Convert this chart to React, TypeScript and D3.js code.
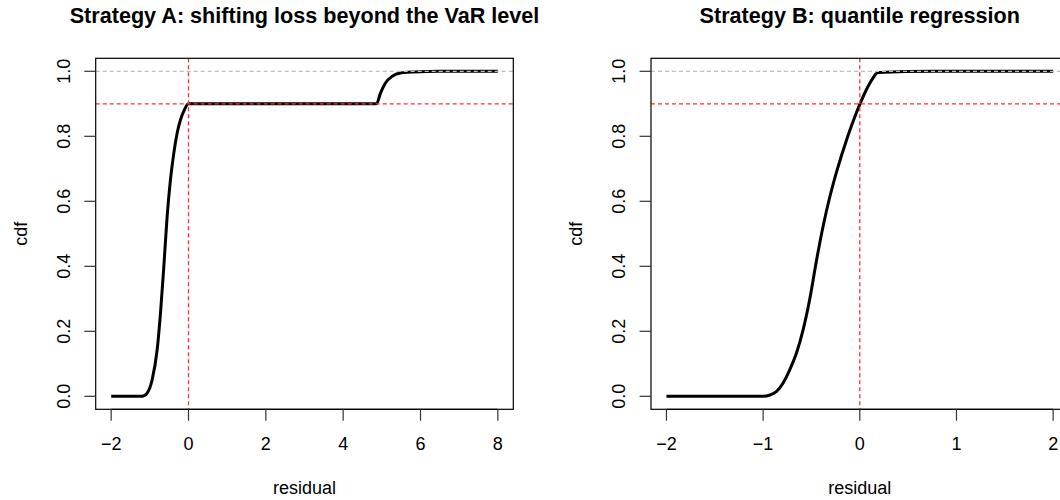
import React from 'react';
import * as d3 from 'd3';

// values (residual, cdf)
const stratAX = [-2, -1.2, -1.07, -0.94, -0.81, -0.724, -0.638, -0.552, -0.466, -0.379, -0.293, -0.207, -0.103, 0, 4.862, 4.965, 5.094, 5.27, 5.48, 5.83, 6.5, 8];
const stratAY = [0, 0, 0.01, 0.051, 0.144, 0.257, 0.4, 0.554, 0.667, 0.749, 0.81, 0.851, 0.882, 0.9, 0.9, 0.933, 0.964, 0.985, 0.995, 0.998, 1.0, 1.0];

const stratBX = [-2, -1.0, -0.93, -0.861, -0.793, -0.724, -0.655, -0.586, -0.517, -0.448, -0.379, -0.31, -0.241, -0.138, -0.069, 0, 0.069, 0.138, 0.189, 0.758, 2];
const stratBY = [0, 0, 0.004, 0.015, 0.041, 0.082, 0.133, 0.205, 0.3, 0.418, 0.524, 0.614, 0.69, 0.788, 0.846, 0.898, 0.944, 0.98, 0.996, 1.0, 1.0];

const ticksA = [-2, 0, 2, 4, 6, 8];
const ticksB = [-2, -1, 0, 1, 2];
const ticksY = [0, 0.2, 0.4, 0.6, 0.8, 1.0];

const titles = ['Strategy A: shifting loss beyond the VaR level', 'Strategy B: quantile regression'];

const FONT = '"Liberation Sans", Arial, Helvetica, sans-serif';
const panelW = 555.3;
const margin = { top: 58.3, right: 42, bottom: 90.7, left: 95.7 };
const H = 500;

const Panel = ({ offset, title, xs, ys, xticks, xmin, xmax }) => {
  const left = offset + margin.left;
  const right = offset + panelW - margin.right;
  const top = margin.top;
  const bottom = H - margin.bottom;

  const pad = (xmax - xmin) * 0.04;
  const x = d3.scaleLinear().domain([xmin - pad, xmax + pad]).range([left, right]);
  const y = d3.scaleLinear().domain([-0.04, 1.04]).range([bottom, top]);

  const pts = xs.map((v, i) => [v, ys[i]]);
  const line = d3.line().x(d => x(d[0])).y(d => y(d[1])).curve(d3.curveMonotoneX);

  const fmtY = d => d3.format('.1f')(d);
  const fmtX = d => (d < 0 ? '\u2212' + Math.abs(d) : String(d));

  return (
    <g fontFamily={FONT}>
      <text x={(left + right) / 2} y={22.7} textAnchor="middle" fontWeight="bold" fontSize={21.6}>{title}</text>

      {/* curve */}
      <path d={line(pts)} fill="none" stroke="#000" strokeWidth={3} strokeLinejoin="round" />

      {/* reference lines */}
      <line x1={left} x2={right} y1={y(1)} y2={y(1)} stroke="#bebebe" strokeWidth={1.2} strokeDasharray="4,3" />
      <line x1={left} x2={right} y1={y(0.9)} y2={y(0.9)} stroke="#ff3030" strokeWidth={1.3} strokeDasharray="4,3" />
      <line x1={x(0)} x2={x(0)} y1={top} y2={bottom} stroke="#ff3030" strokeWidth={1.3} strokeDasharray="4,3" />

      {/* box */}
      <rect x={left} y={top} width={right - left} height={bottom - top} fill="none" stroke="#000" strokeWidth={1.2} />

      {/* x axis */}
      <line x1={x(xticks[0])} x2={x(xticks[xticks.length - 1])} y1={bottom} y2={bottom} stroke="#000" strokeWidth={1.2} />
      {xticks.map(t => (
        <g key={'x' + t}>
          <line x1={x(t)} x2={x(t)} y1={bottom} y2={bottom + 11.4} stroke="#333" strokeWidth={1.2} />
          <text x={x(t)} y={450} textAnchor="middle" fontSize={18}>{fmtX(t)}</text>
        </g>
      ))}
      <text x={(left + right) / 2} y={494.3} textAnchor="middle" fontSize={18}>residual</text>

      {/* y axis */}
      {ticksY.map(t => (
        <g key={'y' + t}>
          <line x1={left - 11.4} x2={left} y1={y(t)} y2={y(t)} stroke="#333" strokeWidth={1.2} />
          <text transform={`translate(${left - 25.7},${y(t)}) rotate(-90)`} textAnchor="middle" fontSize={18}>{fmtY(t)}</text>
        </g>
      ))}
      <text transform={`translate(${left - 69},${(top + bottom) / 2}) rotate(-90)`} textAnchor="middle" fontSize={18}>cdf</text>
    </g>
  );
};

export default function App() {
  return (
    <svg width={1060} height={500} style={{ position: 'absolute', left: 0, top: 0, background: '#fff' }}>
      <rect width={1060} height={500} fill="#fff" />
      <Panel offset={0} title={titles[0]} xs={stratAX} ys={stratAY} xticks={ticksA} xmin={-2} xmax={8} />
      <Panel offset={panelW} title={titles[1]} xs={stratBX} ys={stratBY} xticks={ticksB} xmin={-2} xmax={2} />
    </svg>
  );
}
